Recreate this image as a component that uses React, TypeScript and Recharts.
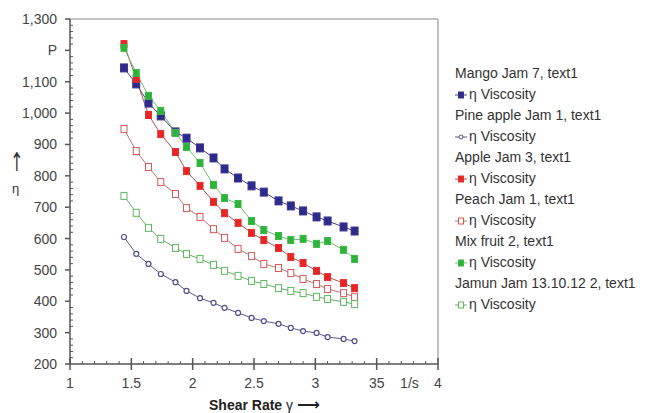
import React from "react";
import { LineChart, Line, XAxis, YAxis, ReferenceLine } from "recharts";

// shear rate (1/s) where each viscosity reading was taken
const shearRate = [1.44, 1.54, 1.64, 1.74, 1.86, 1.95, 2.06, 2.17, 2.26, 2.37, 2.48, 2.58, 2.7, 2.8, 2.9, 3.01, 3.1, 3.23, 3.32];

const mango = [1144, 1093, 1032, 991, 940, 920, 889, 857, 822, 793, 768, 748, 720, 704, 688, 669, 656, 637, 624];
const pineApple = [605, 551, 519, 487, 461, 433, 410, 395, 379, 363, 347, 337, 328, 315, 305, 299, 286, 280, 273];
const apple = [1220, 1109, 994, 933, 876, 815, 768, 717, 681, 650, 618, 595, 570, 541, 522, 497, 477, 458, 442];
const peach = [949, 879, 828, 780, 742, 697, 669, 630, 602, 567, 544, 519, 506, 490, 471, 455, 439, 426, 414];
const mixFruit = [1208, 1128, 1055, 1007, 937, 892, 841, 771, 729, 710, 656, 627, 608, 595, 599, 583, 592, 564, 535];
const jamun = [736, 682, 634, 599, 570, 551, 535, 516, 497, 481, 465, 455, 442, 433, 426, 414, 407, 398, 391];

const xMajor = [1, 1.5, 2, 2.5, 3, 3.5, 4];
const xMajorLabels = ["1", "1.5", "2", "2.5", "3", "35", "4"];
const yMajor = [200, 300, 400, 500, 600, 700, 800, 900, 1000, 1100, 1200, 1300];
const yMajorLabels = ["200", "300", "400", "500", "600", "700", "800", "900", "1,000", "1,100", "P", "1,300"];

// minor ticks every 0.1 / 20
const xTicks: number[] = [];
for (let i = 0; i <= 30; i++) xTicks.push(Math.round((1 + i * 0.1) * 10) / 10);
const yTicks: number[] = [];
for (let v = 200; v <= 1300; v += 20) yTicks.push(v);

const data = shearRate.map((x, i) => ({
  x,
  mango: mango[i],
  pineApple: pineApple[i],
  apple: apple[i],
  peach: peach[i],
  mixFruit: mixFruit[i],
  jamun: jamun[i],
}));

const FONT = "'Liberation Sans', Arial, sans-serif";
const AXIS = "#555";

type SeriesStyle = {
  key: string;
  name: string;
  line: string;
  fill: string;
  stroke: string;
  w: number;
  h: number;
  round?: boolean;
};

const series: SeriesStyle[] = [
  { key: "mango", name: "Mango Jam 7, text1", line: "#4a4680", fill: "#2e2a8a", stroke: "#3a3690", w: 7, h: 8 },
  { key: "pineApple", name: "Pine apple Jam 1, text1", line: "#5a5a8c", fill: "#ffffff", stroke: "#50508c", w: 5, h: 5, round: true },
  { key: "apple", name: "Apple Jam 3, text1", line: "#b85050", fill: "#e82424", stroke: "#e03030", w: 6, h: 7 },
  { key: "peach", name: "Peach Jam 1, text1", line: "#c07070", fill: "#ffffff", stroke: "#d85858", w: 6, h: 7 },
  { key: "mixFruit", name: "Mix fruit 2, text1", line: "#6cbf6c", fill: "#2db33a", stroke: "#3ab848", w: 6, h: 7 },
  { key: "jamun", name: "Jamun Jam 13.10.12 2, text1", line: "#6aaa6a", fill: "#ffffff", stroke: "#5cbc5c", w: 6, h: 7 },
];

const makeDot = (s: SeriesStyle) => (props: any) => {
  const { cx, cy, index } = props;
  if (cx == null || cy == null) return <g key={index} />;
  if (s.round) {
    return <circle key={index} cx={cx} cy={cy} r={s.w / 2} fill={s.fill} stroke={s.stroke} strokeWidth={1.2} />;
  }
  return (
    <rect
      key={index}
      x={cx - s.w / 2}
      y={cy - s.h / 2}
      width={s.w}
      height={s.h}
      fill={s.fill}
      stroke={s.stroke}
      strokeWidth={1}
    />
  );
};

function XTick({ x, y, payload }: any) {
  const v = Math.round(payload.value * 10) / 10;
  const idx = xMajor.indexOf(v);
  if (idx >= 0) {
    return (
      <g>
        <line x1={x} x2={x} y1={y - 6} y2={y + 6} stroke={AXIS} strokeWidth={1.5} />
        <text x={x} y={y + 24} textAnchor="middle" fontSize={14} fill="#444" fontFamily={FONT}>
          {xMajorLabels[idx]}
        </text>
      </g>
    );
  }
  return (
    <g>
      <line x1={x} x2={x} y1={y - 3} y2={y} stroke={AXIS} strokeWidth={1} />
      {v === 3.8 && (
        <text x={x - 4} y={y + 24} textAnchor="middle" fontSize={14} fill="#444" fontFamily={FONT}>
          1/s
        </text>
      )}
    </g>
  );
}

function YTick({ x, y, payload }: any) {
  const idx = yMajor.indexOf(payload.value);
  if (idx >= 0) {
    return (
      <g>
        <line x1={x - 5} x2={x} y1={y} y2={y} stroke={AXIS} strokeWidth={1.5} />
        <text x={x - 13} y={y + 5} textAnchor="end" fontSize={14} fill="#444" fontFamily={FONT}>
          {yMajorLabels[idx]}
        </text>
      </g>
    );
  }
  return <line x1={x} x2={x + 3} y1={y} y2={y} stroke={AXIS} strokeWidth={1} />;
}

function LegendMarker({ s }: { s: SeriesStyle }) {
  return (
    <svg width={12} height={10} style={{ verticalAlign: "middle", marginRight: 2 }}>
      <line x1={0} x2={12} y1={5} y2={5} stroke={s.line} strokeWidth={1} />
      {s.round ? (
        <circle cx={6} cy={5} r={2} fill={s.fill} stroke={s.stroke} strokeWidth={1} />
      ) : (
        <rect x={3.5} y={2} width={5} height={6} fill={s.fill} stroke={s.stroke} strokeWidth={1} />
      )}
    </svg>
  );
}

export default function App() {
  return (
    <div style={{ position: "absolute", left: 0, top: 0, width: 652, height: 413, background: "#fff", overflow: "hidden", fontFamily: FONT }}>
      <LineChart width={652} height={413} data={data} margin={{ top: 19, right: 214, bottom: 19, left: 0 }}>
        <XAxis
          dataKey="x"
          type="number"
          domain={[1, 4]}
          ticks={xTicks}
          interval={0}
          tick={<XTick />}
          tickLine={false}
          tickSize={0}
          tickMargin={0}
          height={30}
          axisLine={{ stroke: AXIS, strokeWidth: 1.5 }}
        />
        <YAxis
          type="number"
          domain={[200, 1300]}
          ticks={yTicks}
          interval={0}
          tick={<YTick />}
          tickLine={false}
          tickSize={0}
          tickMargin={0}
          width={70}
          axisLine={{ stroke: AXIS, strokeWidth: 1.5 }}
        />
        <ReferenceLine y={1300} stroke="#888" strokeWidth={1} />
        <ReferenceLine x={4} stroke="#888" strokeWidth={1} />
        {series.map((s) => (
          <Line
            key={s.key}
            dataKey={s.key}
            name={s.name}
            type="linear"
            stroke={s.line}
            strokeWidth={1}
            dot={makeDot(s)}
            activeDot={false}
            isAnimationActive={false}
          />
        ))}
      </LineChart>

      {/* y axis title */}
      <div
        style={{
          position: "absolute",
          left: 6,
          top: 148,
          fontSize: 26,
          color: "#333",
          lineHeight: "28px",
          height: 28,
          fontFamily: "'DejaVu Sans'",
          transform: "scaleX(0.6)",
        }}
      >
        ↑
      </div>
      <div style={{ position: "absolute", left: 12, top: 181, fontSize: 13, color: "#333", lineHeight: "15px" }}>η</div>

      {/* x axis title */}
      <div style={{ position: "absolute", left: 209, top: 396, fontSize: 14, color: "#222", lineHeight: "17px", whiteSpace: "nowrap" }}>
        <b>Shear Rate</b> γ <span style={{ fontFamily: "'DejaVu Sans'", fontSize: 16, fontWeight: "bold" }}>⟶</span>
      </div>

      {/* legend */}
      <div style={{ position: "absolute", left: 455, top: 63, fontSize: 14, color: "#333", lineHeight: "21px", whiteSpace: "nowrap" }}>
        {series.map((s) => (
          <div key={s.key}>
            <div>{s.name}</div>
            <div>
              <LegendMarker s={s} />
              η Viscosity
            </div>
          </div>
        ))}
      </div>
    </div>
  );
}
